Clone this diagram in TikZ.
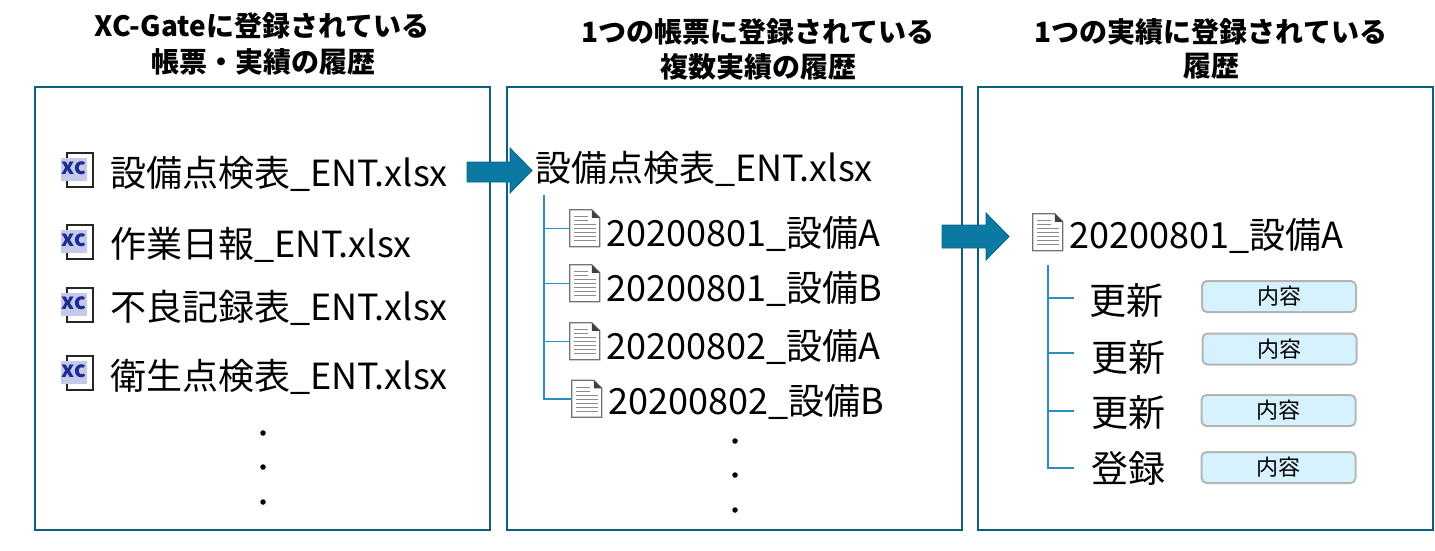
\documentclass[tikz,border=0pt]{standalone}
\usepackage{fontspec}
\setmainfont{Noto Sans CJK JP}
\definecolor{panelc}{HTML}{0B5E7E}
\definecolor{arrowc}{HTML}{0A7AA3}
\definecolor{treec}{HTML}{2A8FC0}
\definecolor{boxfill}{HTML}{D6F2FE}
\definecolor{boxline}{HTML}{B5B5B5}
\definecolor{xcnavy}{HTML}{1B2C94}
\definecolor{xclav}{HTML}{C5C9EA}
\begin{document}
\begin{tikzpicture}[x=1pt,y=-1pt,
 panel/.style={draw=panelc, line width=2.5pt, minimum width=455pt, minimum height=443pt, inner sep=0pt},
 item/.style={anchor=base west, inner sep=0pt, font=\fontsize{36}{44}\selectfont},
 title/.style={anchor=base, inner sep=0pt, font=\fontsize{28}{34}\selectfont\bfseries},
 tree/.style={draw=treec, line width=1.5pt},
 content/.style={draw=boxline, fill=boxfill, line width=2pt, rounded corners=5pt, minimum width=154pt, minimum height=31pt, inner sep=0pt, font=\fontsize{22}{26}\selectfont},
 dotn/.style={circle, fill=black, inner sep=0pt, minimum size=5.5pt},
 iconbox/.style={inner sep=0pt, minimum width=30pt, minimum height=37pt},
 xcbox/.style={inner sep=0pt, minimum width=34pt, minimum height=34pt},
 blockarrow/.style={fill=arrowc, draw=arrowc!80!black, line width=0.8pt},
 docicon/.pic={
   \draw[fill=white, draw=black!55, line width=1.2pt] (0,0) -- (22,0) -- (30,8) -- (30,37) -- (0,37) -- cycle;
   \fill[black!75] (22,0) -- (30,8) -- (22,8) -- cycle;
   \foreach \yy/\xe in {7/18, 11/18, 15/26, 19/26, 23/26, 27/26, 31/26}
     \draw[black!45, line width=1.3pt] (4,\yy) -- (\xe,\yy);
 },
 xcicon/.pic={
   \draw[fill=white, draw=black!85, line width=1.8pt] (-10,-17) rectangle (16,17);
   \fill[xclav] (-16,-12) rectangle (10,11);
   \node[font=\fontsize{22}{22}\selectfont\bfseries, text=xcnavy, inner sep=0pt] (lbl) at (-3,-1.5) {xc};
 }
]
\useasboundingbox (0,0) rectangle (1435,550);

% panels
\node[panel] (p1) at (262.5,308.5) {};
\node[panel] (p2) at (734.5,308.5) {};
\node[panel] (p3) at (1205.5,308.5) {};

% titles
\node[title] (t1a) at (262,36.6) {XC-Gateに登録されている};
\node[title] (t1b) at (263,72.6) {帳票・実績の履歴};
\node[title] (t2a) at (758,42.6) {1つの帳票に登録されている};
\node[title] (t2b) at (758,77.6) {複数実績の履歴};
\node[title] (t3a) at (1211,42) {1つの実績に登録されている};
\node[title] (t3b) at (1211,76) {履歴};

% panel 1
\node[xcbox] (x1) at (77,170) {};
\node[xcbox] (x2) at (77,242) {};
\node[xcbox] (x3) at (77,305) {};
\node[xcbox] (x4) at (77,373) {};
\pic (xa) at (x1.center) {xcicon};
\pic (xb) at (x2.center) {xcicon};
\pic (xc) at (x3.center) {xcicon};
\pic (xd) at (x4.center) {xcicon};
\node[item] (f1) at (110,186) {設備点検表\_ENT.xlsx};
\node[item] (f2) at (110,257) {作業日報\_ENT.xlsx};
\node[item] (f3) at (110,320) {不良記録表\_ENT.xlsx};
\node[item] (f4) at (110,389) {衛生点検表\_ENT.xlsx};
\node[dotn] (d11) at (263,433) {};
\node[dotn] (d12) at (263,467) {};
\node[dotn] (d13) at (263,502) {};

% arrow 1
\draw[blockarrow] (467,162) -- (510,162) -- (510,148) -- (532,170.5) -- (510,193) -- (510,182) -- (467,182) -- cycle;

% panel 2
\node[item] (h2) at (535,181) {設備点検表\_ENT.xlsx};
\node[iconbox] (i21) at (585,228.5) {};
\node[iconbox] (i22) at (585,283.5) {};
\node[iconbox] (i23) at (585,341.5) {};
\node[iconbox] (i24) at (587,399) {};
\pic (da) at (i21.north west) {docicon};
\pic (db) at (i22.north west) {docicon};
\pic (dc) at (i23.north west) {docicon};
\pic (dd) at (i24.north west) {docicon};
\coordinate (t2top) at (544,195);
\draw[tree] (t2top) |- (i24.west);
\draw[tree] (t2top |- i21.west) -- (i21.west);
\draw[tree] (t2top |- i22.west) -- (i22.west);
\draw[tree] (t2top |- i23.west) -- (i23.west);
\node[item] (r1) at (606,246) {20200801\_設備A};
\node[item] (r2) at (606,301) {20200801\_設備B};
\node[item] (r3) at (606,359) {20200802\_設備A};
\node[item] (r4) at (608,414) {20200802\_設備B};
\node[dotn] (d21) at (735,441) {};
\node[dotn] (d22) at (735,475) {};
\node[dotn] (d23) at (735,510) {};

% arrow 2
\draw[blockarrow] (942,225) -- (986,225) -- (986,213) -- (1009,236.5) -- (986,260) -- (986,248) -- (942,248) -- cycle;

% panel 3
\node[iconbox] (i31) at (1048,232.5) {};
\pic (de) at (i31.north west) {docicon};
\node[item] (h3) at (1069,248) {20200801\_設備A};
\coordinate (t3top) at (1048,265);
\coordinate (b31) at (1074,298);
\coordinate (b32) at (1074,353);
\coordinate (b33) at (1074,411);
\coordinate (b34) at (1074,468);
\draw[tree] (t3top) |- (b34);
\draw[tree] (t3top |- b31) -- (b31);
\draw[tree] (t3top |- b32) -- (b32);
\draw[tree] (t3top |- b33) -- (b33);
\node[item, font=\fontsize{37}{44}\selectfont] (e1) at (1089,314) {更新};
\node[item, font=\fontsize{37}{44}\selectfont] (e2) at (1091,371) {更新};
\node[item, font=\fontsize{37}{44}\selectfont] (e3) at (1091,426) {更新};
\node[item, font=\fontsize{37}{44}\selectfont] (e4) at (1091,482) {登録};
\node[content] (c1) at (1279,296.5) {内容};
\node[content] (c2) at (1279.5,349) {内容};
\node[content] (c3) at (1278.5,410.5) {内容};
\node[content] (c4) at (1278.5,467.5) {内容};
\end{tikzpicture}
\end{document}
